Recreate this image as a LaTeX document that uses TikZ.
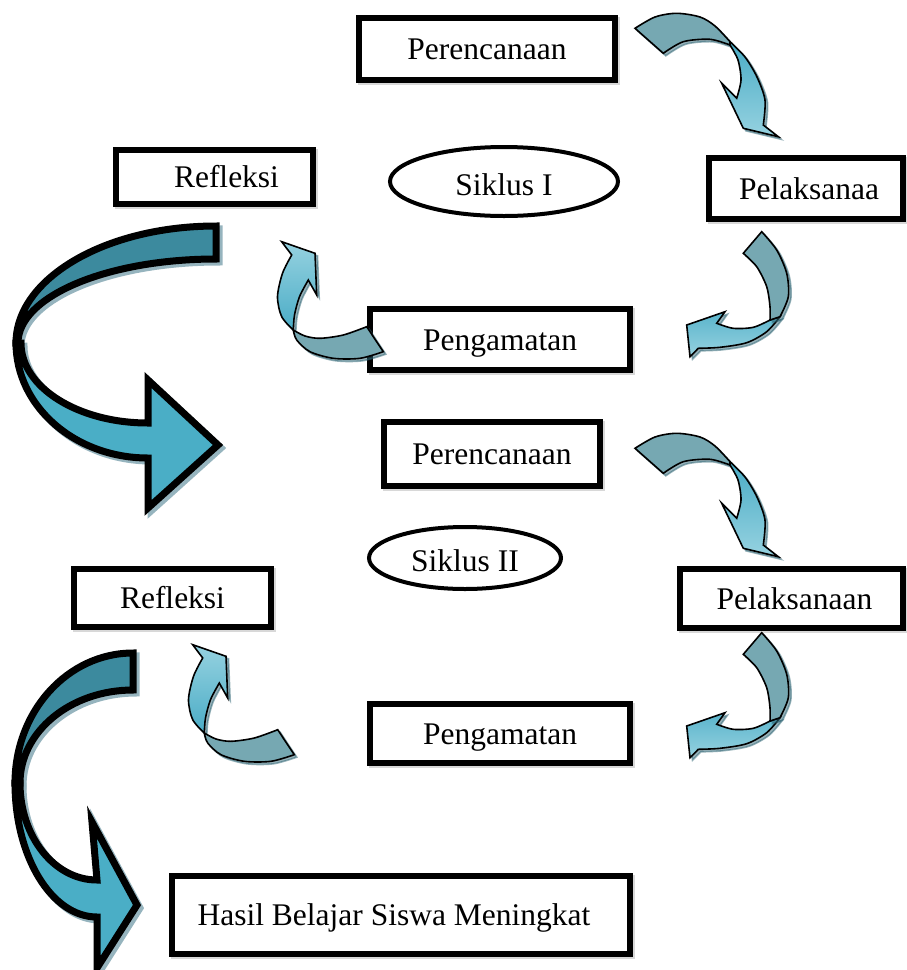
\documentclass[tikz,border=0pt]{standalone}
\usepackage{fontspec}
\setmainfont{Liberation Serif}
\usetikzlibrary{shapes.geometric}
\usetikzlibrary{shadows}

\definecolor{tealtua}{RGB}{60,138,158}
\definecolor{tealbiru}{RGB}{74,174,198}
\definecolor{abubiru}{RGB}{150,180,190}
\definecolor{kusam}{RGB}{118,168,178}
\definecolor{mudaatas}{RGB}{74,172,198}
\definecolor{mudabawah}{RGB}{150,210,224}
\definecolor{bayang}{RGB}{45,100,115}

\begin{document}
\begin{tikzpicture}
    [x=1pt, y=-1pt,
     font=\fontsize{31.5}{38}\selectfont,
     bx/.style={rectangle, draw, line width=6pt, fill=white, inner sep=0pt,
        text height=24pt, text depth=3pt,
        drop shadow={shadow xshift=1.5pt, shadow yshift=-1.5pt, fill=gray!60, draw=gray!60, line width=6pt}},
     sk/.style={ellipse, draw, line width=4pt, fill=white, inner sep=0pt,
        text height=27pt, text depth=0pt},
     bayangan/.style={draw=abubiru, fill=abubiru, line width=7pt, line join=miter},
     big/.style={draw=black, line width=7pt, line join=miter},
     sm/.style={draw, line width=1.6pt, line join=miter,
        drop shadow={shadow xshift=2.5pt, shadow yshift=-2.5pt, fill=bayang, draw=bayang, line width=1.6pt}}]

    \useasboundingbox (0,0) rectangle (907,970);

    % siklus I
    \node [bx, minimum width=256pt, minimum height=62pt] (p1) at (487,49) {Perencanaan};
    \node [bx, minimum width=194pt, minimum height=61pt] (l1) at (806,188.5) {\hspace*{6pt}Pelaksanaa};
    \node [bx, minimum width=197pt, minimum height=54pt] (r1) at (214.5,177) {\hspace*{24pt}Refleksi};
    \node [sk, minimum width=228pt, minimum height=69pt] (s1) at (504,181.5) {Siklus I};
    \node [bx, minimum width=260pt, minimum height=61pt] (g1) at (500,339.5) {Pengamatan};

    % siklus II
    \node [bx, minimum width=216pt, minimum height=64pt] (p2) at (492,454) {Perencanaan};
    \node [sk, minimum width=192pt, minimum height=62pt] (s2) at (465,558) {Siklus II};
    \node [bx, minimum width=197pt, minimum height=58pt] (r2) at (172.5,598) {Refleksi};
    \node [bx, minimum width=223pt, minimum height=59pt] (l2) at (791.5,598.5) {\hspace*{6pt}Pelaksanaan};
    \node [bx, minimum width=260pt, minimum height=59pt] (g2) at (500,733.5) {Pengamatan};

    \node [bx, minimum width=458pt, minimum height=78pt] (h) at (401,915) {Hasil Belajar Siswa Meningkat\hspace*{14pt}};

    % perencanaan -> pelaksanaan
    \foreach \dx/\dy in {0/0, 0/420} {
    \begin{scope}[shift={(\dx,\dy)}]
    \path [sm, fill=kusam] plot [smooth] coordinates {(635,28.3) (655,17) (676.7,13.3) (700,17) (715,26) (730,41.7)}
        -- plot [smooth] coordinates {(730,45) (710,39.3) (683.3,41.7) (663.3,53.3)} -- cycle;
    \path [sm, top color=mudaatas, bottom color=mudabawah] plot [smooth] coordinates {(730,41.7) (745,57) (757,77) (765,100) (763.3,125)}
        -- (778.3,136.7) -- (743.3,128.3) -- (721.7,83.3) -- (736.7,98.3)
        -- plot [smooth] coordinates {(736.7,98.3) (741,80) (738,60) (730,45)} -- cycle;
    \end{scope}
    }

    % pelaksanaan -> pengamatan
    \foreach \dx/\dy in {0/0, 0/401} {
    \begin{scope}[shift={(\dx,\dy)}]
    \path [sm, top color=mudaatas!80!mudabawah, bottom color=mudabawah] plot [smooth] coordinates {(780,316.7) (766.7,331.7) (746.7,342.7) (720,347.3) (698.3,348.3)}
        -- (690,356.7) -- (686.7,325) -- (725,311.7) -- (716.7,323.3)
        -- plot [smooth] coordinates {(716.7,323.3) (733.3,328.3) (753.3,327.3) (770,320)} -- cycle;
    \path [sm, fill=kusam] plot [smooth] coordinates {(761.7,231.7) (776.7,250) (786.7,273.3) (788.3,296.7) (780,316.7)}
        -- plot [smooth] coordinates {(770,320) (770,306.7) (766.7,286.7) (756.7,266.7) (743.3,253.3)} -- cycle;
    \end{scope}
    }

    % pengamatan -> refleksi
    \foreach \dx/\dy in {0/0, -89/403} {
    \begin{scope}[shift={(\dx,\dy)}]
    \path [sm, top color=mudabawah, bottom color=mudaatas] plot [smooth] coordinates {(293.3,330) (281.7,316.7) (277.5,296.7) (282.5,273.3) (291.7,255)}
        -- (281.7,241.7) -- (315,253.3) -- (316.7,295) -- (308.3,280)
        -- plot [smooth] coordinates {(308.3,280) (299.5,296.7) (294.5,315) (293.3,330)} -- cycle;
    \path [sm, fill=kusam] plot [smooth] coordinates {(293.3,330) (305,336) (320,338.3) (343.3,335) (366.7,326.7)}
        -- (383.3,351.7)
        -- plot [smooth] coordinates {(383.3,351.7) (360,358.3) (333.3,358.3) (310,351.7) (296.7,340) (293.3,330)} -- cycle;
    \end{scope}
    }

    % refleksi -> perencanaan II dan refleksi II -> hasil
    \foreach \gaya/\sx in {bayangan/3, big/0} {
    \begin{scope}[shift={(\sx,\sx)}]
    \path [\gaya, fill=tealtua] (216,226) arc [start angle=90, end angle=180, x radius=200pt, y radius=117pt]
        -- (18,343) arc [start angle=180, end angle=90, x radius=198pt, y radius=84pt] -- cycle;
    \path [\gaya, fill=tealbiru] (16,343) arc [start angle=180, end angle=270, x radius=132pt, y radius=115pt]
        -- (148,508) -- (218,445) -- (148,380) -- (148,423)
        arc [start angle=270, end angle=180, x radius=127pt, y radius=80pt] -- cycle;
    \path [\gaya, fill=tealtua] (133,653) arc [start angle=90, end angle=180, x radius=118pt, y radius=130pt]
        -- (20,783) arc [start angle=180, end angle=90, x radius=113pt, y radius=93pt] -- cycle;
    \path [\gaya, fill=tealbiru] (15,783) arc [start angle=180, end angle=270, x radius=82pt, y radius=134pt]
        -- (97,968) -- (137,905) -- (92,822) -- (97,880)
        arc [start angle=270, end angle=180, x radius=77pt, y radius=97pt] -- cycle;
    \end{scope}
    }
\end{tikzpicture}
\end{document}
